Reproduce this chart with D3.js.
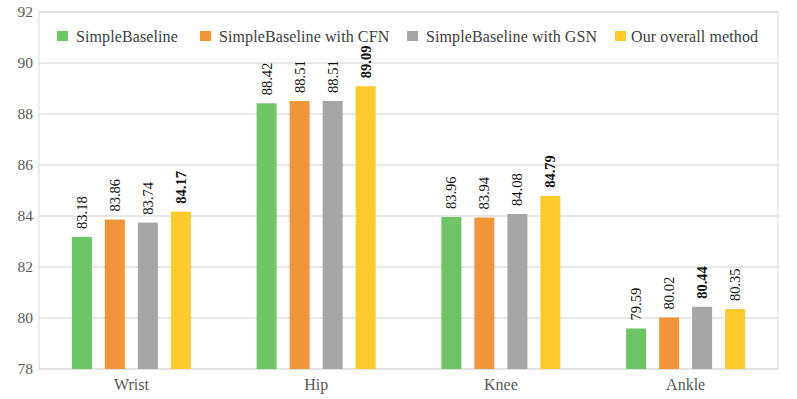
<!DOCTYPE html>
<html>
<head>
<meta charset="utf-8">
<script src="https://cdn.jsdelivr.net/npm/d3@7"></script>
<style>
  body { margin: 0; background: #fff; }
  text { font-family: "Liberation Serif", "Times New Roman", serif; }
</style>
</head>
<body>
<svg id="chart" width="797" height="399"></svg>
<script>
// joints on the x axis
const categories = ['Wrist', 'Hip', 'Knee', 'Ankle'];
const seriesNames = ['SimpleBaseline', 'SimpleBaseline with CFN', 'SimpleBaseline with GSN', 'Our overall method'];
const simpleBaseline = [83.18, 88.42, 83.96, 79.59];
const withCFN = [83.86, 88.51, 83.94, 80.02];
const withGSN = [83.74, 88.51, 84.08, 80.44];
const overall = [84.17, 89.09, 84.79, 80.35];
const yTicks = [78, 80, 82, 84, 86, 88, 90, 92];
// best value per joint is printed bold
const bestSeries = [3, 3, 3, 2];

const colors = ['#6fc566', '#f0953a', '#a6a6a6', '#ffca2c'];
const allSeries = [simpleBaseline, withCFN, withGSN, overall];

const svg = d3.select('#chart');
const plotLeft = 39, plotRight = 778, plotTop = 12, plotBottom = 369;

const x = d3.scaleBand().domain(categories).range([plotLeft, plotRight]);
const y = d3.scaleLinear().domain([78, 92]).range([plotBottom, plotTop]);

// grid
svg.append('g')
  .selectAll('line')
  .data(yTicks)
  .enter()
  .append('line')
  .attr('x1', plotLeft).attr('x2', plotRight)
  .attr('y1', d => y(d)).attr('y2', d => y(d))
  .attr('stroke', '#e0e0e0')
  .attr('stroke-width', 1.3);

// plot frame
svg.append('rect')
  .attr('x', plotLeft).attr('y', plotTop)
  .attr('width', plotRight - plotLeft).attr('height', plotBottom - plotTop)
  .attr('fill', 'none')
  .attr('stroke', '#dcdcdc');

// y axis labels
const yAxis = d3.axisLeft(y).tickValues(yTicks).tickSize(0).tickPadding(6);
const yg = svg.append('g').attr('transform', `translate(${plotLeft},0)`).call(yAxis);
yg.select('.domain').remove();
yg.selectAll('text')
  .attr('font-size', 15.5)
  .attr('fill', '#595959')
  .style('font-family', '"Liberation Serif", serif');

// x axis labels
const xAxis = d3.axisBottom(x).tickSize(0).tickPadding(10);
const xg = svg.append('g').attr('transform', `translate(0,${plotBottom})`).call(xAxis);
xg.select('.domain').remove();
xg.selectAll('text')
  .attr('font-size', 16)
  .attr('fill', '#595959')
  .style('font-family', '"Liberation Serif", serif');

// bars
const inner = d3.scaleBand().domain(d3.range(4)).range([-59.5, 59.5]).paddingInner(0.394);

const bars = [];
categories.forEach((c, i) => {
  allSeries.forEach((s, k) => {
    bars.push({ cat: c, idx: i, k: k, value: s[i] });
  });
});

svg.append('g')
  .selectAll('rect')
  .data(bars)
  .enter()
  .append('rect')
  .attr('x', d => x(d.cat) + x.bandwidth() / 2 + inner(d.k))
  .attr('y', d => y(d.value))
  .attr('width', inner.bandwidth())
  .attr('height', d => plotBottom - y(d.value))
  .attr('fill', d => colors[d.k]);

// value labels, vertical
svg.append('g')
  .selectAll('text')
  .data(bars)
  .enter()
  .append('text')
  .attr('transform', d => {
    const cx = x(d.cat) + x.bandwidth() / 2 + inner(d.k) + inner.bandwidth() / 2;
    return `translate(${cx},${y(d.value) - 8}) rotate(-90)`;
  })
  .attr('dy', '0.35em')
  .attr('font-size', 14.5)
  .attr('font-weight', d => bestSeries[d.idx] === d.k ? 'bold' : 'normal')
  .attr('fill', '#111')
  .text(d => d.value.toFixed(2));

// legend
const legendX = [57, 200, 407, 615];
const leg = svg.append('g')
  .selectAll('g')
  .data(seriesNames)
  .enter()
  .append('g')
  .attr('transform', (d, i) => `translate(${legendX[i]},36)`);

leg.append('rect')
  .attr('x', 0).attr('y', -5)
  .attr('width', 11).attr('height', 10)
  .attr('fill', (d, i) => colors[i]);

leg.append('text')
  .attr('x', (d, i) => i === 3 ? 16 : 19)
  .attr('dy', '0.35em')
  .attr('font-size', 16)
  .attr('letter-spacing', 0.1)
  .attr('fill', '#404040')
  .text(d => d);
</script>
</body>
</html>
